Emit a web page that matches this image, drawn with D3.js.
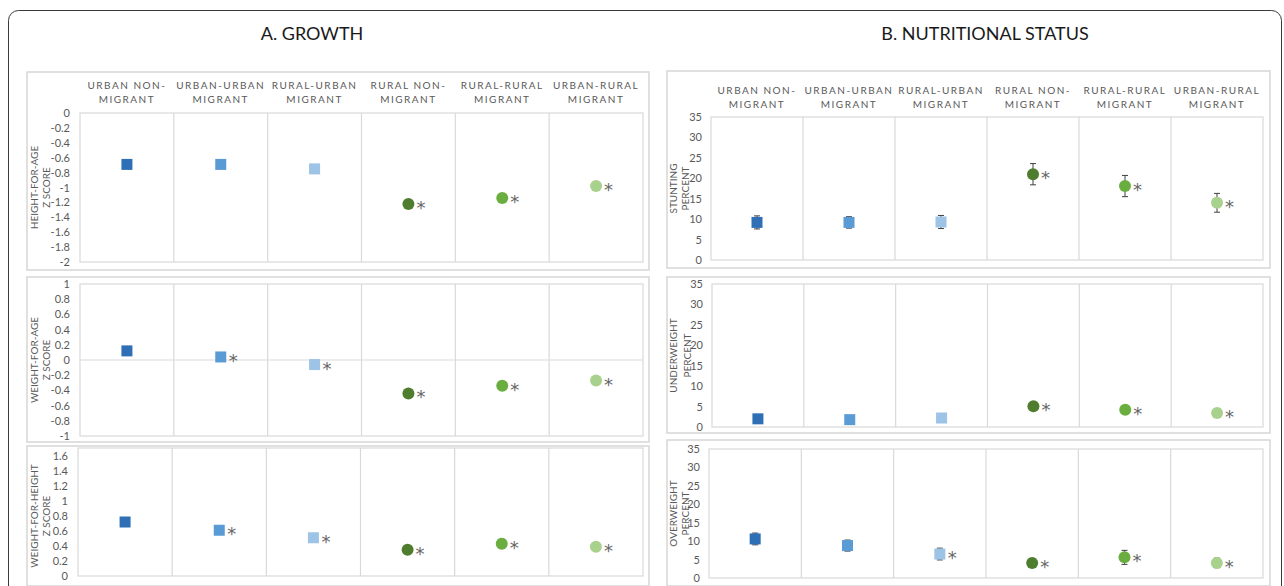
<!DOCTYPE html>
<html>
<head>
<meta charset="utf-8">
<script src="https://cdn.jsdelivr.net/npm/d3@7"></script>
<style>
  html, body { margin: 0; padding: 0; background: #fff; }
  svg { display: block; font-family: Lato, "Open Sans", sans-serif; }
</style>
</head>
<body>
<svg id="chart" width="1284" height="586"></svg>
<script>
// Migrant groups shown as columns in every panel
const groupKeys = ["UN", "UU", "RU", "RN", "RR", "UR"];
const groupLabels = [
  ["URBAN NON-", "MIGRANT"],
  ["URBAN-URBAN", "MIGRANT"],
  ["RURAL-URBAN", "MIGRANT"],
  ["RURAL NON-", "MIGRANT"],
  ["RURAL-RURAL", "MIGRANT"],
  ["URBAN-RURAL", "MIGRANT"]
];
const groupColors = ["#2e6fb5", "#5b9bd5", "#9dc3e6", "#4e7d2e", "#6aae3f", "#a9d18e"];
const groupShapes = ["square", "square", "square", "circle", "circle", "circle"];

// A. Growth: mean z-scores
const hazValues = [-0.69, -0.69, -0.75, -1.22, -1.14, -0.98];
const hazErr    = [0.03, 0.03, 0.04, 0.03, 0.04, 0.04];
const hazSig    = [false, false, false, true, true, true];

const wazValues = [0.12, 0.04, -0.06, -0.44, -0.34, -0.27];
const wazErr    = [0.03, 0.03, 0.05, 0.03, 0.05, 0.04];
const wazSig    = [false, true, true, true, true, true];

const whzValues = [0.72, 0.61, 0.51, 0.35, 0.43, 0.39];
const whzErr    = [0.03, 0.03, 0.05, 0.04, 0.06, 0.04];
const whzSig    = [false, true, true, true, true, true];

// B. Nutritional status: prevalence (%)
const stuntingValues = [9.2, 9.2, 9.3, 21.0, 18.1, 14.0];
const stuntingErr    = [1.6, 1.4, 1.6, 2.6, 2.6, 2.3];
const stuntingSig    = [false, false, false, true, true, true];

const underweightValues = [2.0, 1.8, 2.2, 5.1, 4.2, 3.4];
const underweightErr    = [0.5, 0.4, 0.5, 0.8, 0.7, 0.6];
const underweightSig    = [false, false, false, true, true, true];

const overweightValues = [10.6, 8.8, 6.5, 4.1, 5.6, 4.1];
const overweightErr    = [1.6, 1.5, 1.6, 1.2, 1.9, 1.3];
const overweightSig    = [false, false, true, true, true, true];

// Tick labels
const hazTicks = [0, -0.2, -0.4, -0.6, -0.8, -1, -1.2, -1.4, -1.6, -1.8, -2];
const wazTicks = [1, 0.8, 0.6, 0.4, 0.2, 0, -0.2, -0.4, -0.6, -0.8, -1];
const whzTicks = [0, 0.2, 0.4, 0.6, 0.8, 1, 1.2, 1.4, 1.6];
const pctTicks = [0, 5, 10, 15, 20, 25, 30, 35];

const sectionTitles = [
  { text: "A. GROWTH", x: 312 },
  { text: "B. NUTRITIONAL STATUS", x: 985 }
];

// Panel layout
const panels = [
  { values: hazValues, err: hazErr, sig: hazSig, ticks: hazTicks, domain: [-2, 0],
    box: { x: 27, y: 72, w: 622, h: 198 }, plot: { l: 80, r: 643, t: 113, b: 262 }, top: 113,
    header: 89, titles: ["HEIGHT-FOR-AGE", "Z SCORE"], titleX: [38, 50], pad: 10 },
  { values: wazValues, err: wazErr, sig: wazSig, ticks: wazTicks, domain: [-1, 1],
    box: { x: 27, y: 277, w: 622, h: 165 }, plot: { l: 80, r: 643, t: 284, b: 436 }, top: 284,
    titles: ["WEIGHT-FOR-AGE", "Z SCORE"], titleX: [38, 50], pad: 10 },
  { values: whzValues, err: whzErr, sig: whzSig, ticks: whzTicks, domain: [0, 1.6],
    box: { x: 27, y: 446, w: 622, h: 140 }, plot: { l: 78, r: 643, t: 456, b: 576 }, top: 448,
    titles: ["WEIGHT-FOR-HEIGHT", "Z SCORE"], titleX: [38, 50], pad: 10 },
  { values: stuntingValues, err: stuntingErr, sig: stuntingSig, ticks: pctTicks, domain: [0, 35],
    box: { x: 667, y: 71, w: 603, h: 197 }, plot: { l: 711, r: 1263, t: 117, b: 260 }, top: 117,
    header: 94, titles: ["STUNTING", "PERCENT"], titleX: [677, 689], pad: 9 },
  { values: underweightValues, err: underweightErr, sig: underweightSig, ticks: pctTicks, domain: [0, 35],
    box: { x: 667, y: 277, w: 603, h: 156 }, plot: { l: 712, r: 1263, t: 284, b: 427 }, top: 284,
    titles: ["UNDERWEIGHT", "PERCENT"], titleX: [677, 691], pad: 9 },
  { values: overweightValues, err: overweightErr, sig: overweightSig, ticks: pctTicks, domain: [0, 35],
    box: { x: 667, y: 440, w: 603, h: 146 }, plot: { l: 709, r: 1263, t: 449, b: 578 }, top: 449,
    titles: ["OVERWEIGHT", "PERCENT"], titleX: [677, 689], pad: 9 }
];

const svg = d3.select("#chart");
const gridColor = "#d9d9d9";
const textColor = "#595959";

// Outer frame
svg.append("rect")
  .attr("x", 8.5).attr("y", 10.5)
  .attr("width", 1273).attr("height", 600)
  .attr("rx", 10).attr("ry", 10)
  .attr("fill", "none").attr("stroke", "#3a3a3a").attr("stroke-width", 1);

svg.selectAll("text.section")
  .data(sectionTitles)
  .join("text")
  .attr("class", "section")
  .attr("x", d => d.x).attr("y", 40)
  .attr("text-anchor", "middle")
  .attr("font-size", 18)
  .attr("fill", "#1a1a1a")
  .text(d => d.text);

const fmt = v => String(+v.toFixed(1)).replace("\u2212", "-");

panels.forEach(p => {
  const g = svg.append("g");

  g.append("rect")
    .attr("x", p.box.x).attr("y", p.box.y)
    .attr("width", p.box.w).attr("height", p.box.h)
    .attr("fill", "#fff").attr("stroke", gridColor).attr("stroke-width", 1.6);

  const x = d3.scaleBand().domain(groupKeys).range([p.plot.l, p.plot.r]);
  const y = d3.scaleLinear().domain(p.domain).range([p.plot.b, p.plot.t]);

  // Plot area border and column dividers
  g.append("rect")
    .attr("x", p.plot.l).attr("y", p.top)
    .attr("width", p.plot.r - p.plot.l).attr("height", p.plot.b - p.top)
    .attr("fill", "none").attr("stroke", gridColor).attr("stroke-width", 1.2);

  g.selectAll("line.divider")
    .data(groupKeys.slice(1))
    .join("line")
    .attr("class", "divider")
    .attr("x1", d => x(d)).attr("x2", d => x(d))
    .attr("y1", p.top).attr("y2", p.plot.b)
    .attr("stroke", gridColor).attr("stroke-width", 1.2);

  if (p.domain[0] < 0 && p.domain[1] > 0) {
    g.append("line")
      .attr("x1", p.plot.l).attr("x2", p.plot.r)
      .attr("y1", y(0)).attr("y2", y(0))
      .attr("stroke", gridColor).attr("stroke-width", 1.2);
  }

  // Y axis labels
  const axis = d3.axisLeft(y).tickValues(p.ticks).tickSize(0).tickPadding(p.pad).tickFormat(fmt);
  const ag = g.append("g").attr("transform", `translate(${p.plot.l},0)`).call(axis);
  ag.select(".domain").remove();
  ag.selectAll("text")
    .attr("font-family", "Lato, 'Open Sans', sans-serif")
    .attr("font-size", 11)
    .attr("fill", textColor);

  // Y axis title (two lines, rotated)
  const cy = (p.plot.t + p.plot.b) / 2;
  p.titles.forEach((t, i) => {
    g.append("text")
      .attr("transform", `translate(${p.titleX[i]},${cy}) rotate(-90)`)
      .attr("text-anchor", "middle")
      .attr("font-size", 10)
      .attr("fill", textColor)
      .text(t);
  });

  // Column headers
  if (p.header) {
    const hg = g.selectAll("g.header")
      .data(groupKeys)
      .join("g")
      .attr("class", "header");
    [0, 1].forEach(line => {
      hg.append("text")
        .attr("x", d => x(d) + x.bandwidth() / 2)
        .attr("y", p.header + line * 13.5)
        .attr("text-anchor", "middle")
        .attr("font-size", 10)
        .attr("letter-spacing", 1.5)
        .attr("fill", textColor)
        .text((d, i) => groupLabels[i][line]);
    });
  }

  const rows = groupKeys.map((k, i) => ({
    key: k, value: p.values[i], err: p.err[i], sig: p.sig[i],
    color: groupColors[i], shape: groupShapes[i]
  }));
  const cx = d => x(d.key) + x.bandwidth() / 2;

  // Error bars
  const eb = g.selectAll("g.err").data(rows).join("g").attr("class", "err")
    .attr("stroke", "#404040").attr("stroke-width", 1);
  eb.append("line")
    .attr("x1", cx).attr("x2", cx)
    .attr("y1", d => y(d.value - d.err)).attr("y2", d => y(d.value + d.err));
  eb.append("line")
    .attr("x1", d => cx(d) - 3).attr("x2", d => cx(d) + 3)
    .attr("y1", d => y(d.value - d.err)).attr("y2", d => y(d.value - d.err));
  eb.append("line")
    .attr("x1", d => cx(d) - 3).attr("x2", d => cx(d) + 3)
    .attr("y1", d => y(d.value + d.err)).attr("y2", d => y(d.value + d.err));

  // Markers
  g.selectAll("rect.mark")
    .data(rows.filter(d => d.shape === "square"))
    .join("rect")
    .attr("class", "mark")
    .attr("x", d => cx(d) - 5.5).attr("y", d => y(d.value) - 5.5)
    .attr("width", 11).attr("height", 11)
    .attr("fill", d => d.color);

  g.selectAll("circle.mark")
    .data(rows.filter(d => d.shape === "circle"))
    .join("circle")
    .attr("class", "mark")
    .attr("cx", cx).attr("cy", d => y(d.value))
    .attr("r", 6)
    .attr("fill", d => d.color);

  // Significance markers
  g.selectAll("text.sig")
    .data(rows.filter(d => d.sig))
    .join("text")
    .attr("class", "sig")
    .attr("x", d => cx(d) + 8)
    .attr("y", d => y(d.value) + 10)
    .attr("font-family", "'DejaVu Sans', sans-serif")
    .attr("font-size", 18)
    .attr("fill", "#666")
    .text("*");
});
</script>
</body>
</html>
